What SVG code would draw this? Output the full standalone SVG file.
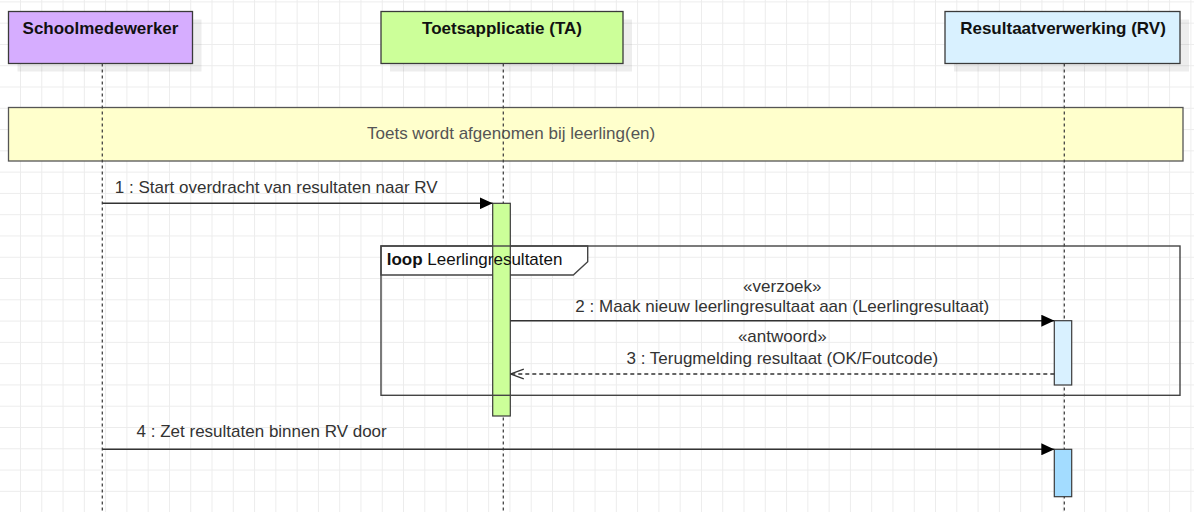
<svg xmlns="http://www.w3.org/2000/svg" width="1194" height="512" viewBox="0 0 1194 512">
<style>
.hdr{stroke:#3a3a3a;stroke-width:1.3}
.shadow{fill:#000;opacity:0.07}
.hdrtxt{font-family:"Liberation Sans",Arial,sans-serif;font-size:17px;font-weight:bold;fill:#111;text-anchor:middle}
.life{stroke:#444;stroke-width:1.3;stroke-dasharray:3 3;fill:none}
.act{stroke:#3a3a3a;stroke-width:1.2}
.msg{stroke:#333;stroke-width:1.5;fill:none}
.ret{stroke:#333;stroke-width:1.3;fill:none;stroke-dasharray:4 3}
.lbl{font-family:"Liberation Sans",Arial,sans-serif;font-size:17px;fill:#333}
.mid{text-anchor:middle}
.frame{stroke:#444;stroke-width:1.4}
</style>
<defs>
<pattern id="grid" patternUnits="userSpaceOnUse" x="20" y="1.4" width="21.28" height="21.28">
<path d="M0 0.5H21.28M0.5 0V21.28" stroke="#ececec" stroke-width="1" fill="none"/>
</pattern>
<marker id="filled" viewBox="0 0 13 12" refX="13" refY="6" markerWidth="13" markerHeight="12" markerUnits="userSpaceOnUse" orient="auto">
<path d="M0 0L13 6L0 12Z" fill="#000"/>
</marker>
<marker id="open" viewBox="0 0 14 12" refX="13" refY="6" markerWidth="14" markerHeight="12" markerUnits="userSpaceOnUse" orient="auto">
<path d="M0 1.2L13 6L0 10.8" fill="none" stroke="#333" stroke-width="1.3"/>
</marker>
</defs>
<rect width="1194" height="512" fill="#fff"/>
<rect width="1194" height="512" fill="url(#grid)"/>

<g id="note">
<rect x="8.5" y="107.5" width="1174.5" height="53.5" fill="#FFFFCC" stroke="#555" stroke-width="1.3"/>
<text x="367" y="138.5" font-family="Liberation Sans, Arial, sans-serif" font-size="17" fill="#555">Toets wordt afgenomen bij leerling(en)</text>
</g>

<g id="lifeline-schoolmedewerker">
<rect class="shadow" x="17.5" y="19.5" width="184" height="52"/>
<rect class="hdr" x="8.5" y="11.5" width="184" height="52" fill="#D6ADFF"/>
<text class="hdrtxt" x="100.5" y="34.3">Schoolmedewerker</text>
<line class="life" x1="102.3" y1="63.5" x2="102.3" y2="512"/>
</g>

<g id="lifeline-ta">
<rect class="shadow" x="390" y="19.5" width="242" height="52"/>
<rect class="hdr" x="381" y="11.5" width="242" height="52" fill="#CCFF99"/>
<text class="hdrtxt" x="502" y="34.3">Toetsapplicatie (TA)</text>
<line class="life" x1="503.3" y1="63.5" x2="503.3" y2="512"/>
</g>

<g id="lifeline-rv">
<rect class="shadow" x="954" y="19.5" width="235" height="52"/>
<rect class="hdr" x="945" y="11.5" width="235" height="52" fill="#D9F1FF"/>
<text class="hdrtxt" x="1063" y="34.3">Resultaatverwerking (RV)</text>
<line class="life" x1="1064.3" y1="63.5" x2="1064.3" y2="512"/>
</g>

<g id="loop-label">
<path class="frame" d="M381 246H587.7V261.7L573.3 275H381Z" fill="#fff"/>
</g>

<g id="activation-ta">
<rect class="act" x="492.7" y="203.3" width="17.6" height="212.7" fill="#CCFF99"/>
</g>

<g id="loop-frame">
<rect class="frame" x="381" y="246" width="799" height="149.3" fill="none"/>
<text x="386.7" y="265" font-family="Liberation Sans, Arial, sans-serif" font-size="17" fill="#111"><tspan font-weight="bold">loop</tspan> Leerlingresultaten</text>
</g>

<g id="activation-rv-1">
<rect class="act" x="1054.3" y="320.7" width="17.4" height="64.3" fill="#D9F1FF"/>
</g>

<g id="activation-rv-2">
<rect class="act" x="1054.3" y="449.3" width="17.4" height="47.4" fill="#A3DCFF"/>
</g>

<g id="connectors">
<line class="msg" x1="102.3" y1="203.3" x2="492.7" y2="203.3" marker-end="url(#filled)"/>
<text class="lbl" x="114.8" y="193.3">1 : Start overdracht van resultaten naar RV</text>

<line class="msg" x1="510.3" y1="320.7" x2="1054.3" y2="320.7" marker-end="url(#filled)"/>
<text class="lbl mid" x="782.3" y="291.7">«verzoek»</text>
<text class="lbl mid" x="782.3" y="312.3">2 : Maak nieuw leerlingresultaat aan (Leerlingresultaat)</text>

<line class="ret" x1="1054.3" y1="374" x2="510.8" y2="374" marker-end="url(#open)"/>
<text class="lbl mid" x="782.3" y="342.3">«antwoord»</text>
<text class="lbl mid" x="782.3" y="363.6">3 : Terugmelding resultaat (OK/Foutcode)</text>

<line class="msg" x1="102.3" y1="449.3" x2="1054.3" y2="449.3" marker-end="url(#filled)"/>
<text class="lbl" x="136.6" y="436.7">4 : Zet resultaten binnen RV door</text>
</g>
</svg>
